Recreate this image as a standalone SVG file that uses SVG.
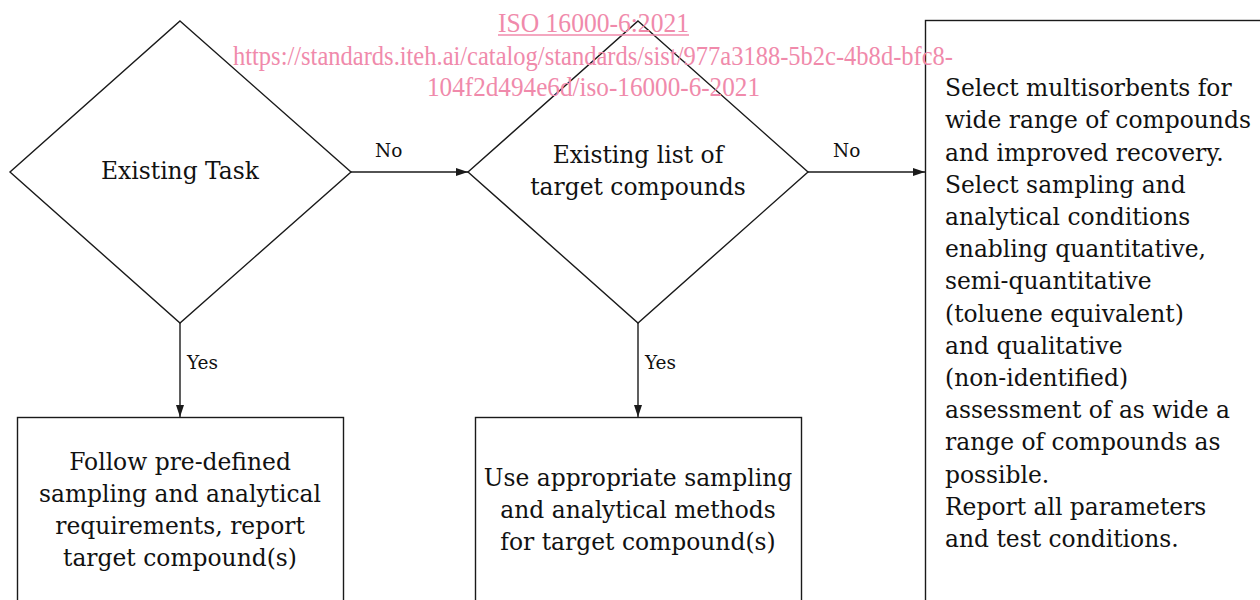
<svg xmlns="http://www.w3.org/2000/svg" width="1260" height="600" viewBox="0 0 1260 600">
<style>
.shape{fill:#fff;stroke:#1a1a1a;stroke-width:1.4}
.t{font-family:"DejaVu Serif","Liberation Serif",serif;font-size:23.4px;fill:#111}
.c{text-anchor:middle}
.lbl{font-family:"DejaVu Serif","Liberation Serif",serif;font-size:18.5px;fill:#111}
.conn{stroke:#1a1a1a;stroke-width:1.4;fill:none;marker-end:url(#ah)}
.wm{font-family:"Liberation Serif","Times New Roman",serif;font-size:28px;fill:#f08aab;text-anchor:middle}
</style>
<defs>
<marker id="ah" viewBox="0 0 12 8" refX="12" refY="4" markerWidth="12" markerHeight="8" markerUnits="userSpaceOnUse" orient="auto">
<path d="M0,0 L12,4 L0,8 Z" fill="#1a1a1a"/>
</marker>
</defs>
<rect width="1260" height="600" fill="#fff"/>
<g id="connectors">
<line class="conn" x1="351" y1="172" x2="468" y2="172"/>
<line class="conn" x1="808" y1="172" x2="925" y2="172"/>
<line class="conn" x1="180" y1="323" x2="180" y2="417"/>
<line class="conn" x1="638" y1="323" x2="638" y2="417"/>
<text class="lbl" x="375" y="157">No</text>
<text class="lbl" x="833" y="157">No</text>
<text class="lbl" x="187" y="369">Yes</text>
<text class="lbl" x="645" y="369">Yes</text>
</g>
<g id="node-existing-task">
<polygon class="shape" points="180,21 351,172 180,323 10,172"/>
<text class="t c" x="180" y="179">Existing Task</text>
</g>
<g id="node-existing-list">
<polygon class="shape" points="638,21 808,172 638,323 468,172"/>
<text class="t c" x="638" y="163">Existing list of</text>
<text class="t c" x="638" y="195">target compounds</text>
</g>
<g id="node-follow">
<rect class="shape" x="17.5" y="417.5" width="326" height="200"/>
<text class="t c" x="180" y="470">Follow pre-defined</text>
<text class="t c" x="180" y="502">sampling and analytical</text>
<text class="t c" x="180" y="534">requirements, report</text>
<text class="t c" x="180" y="566">target compound(s)</text>
</g>
<g id="node-use">
<rect class="shape" x="475.5" y="417.5" width="326" height="200"/>
<text class="t c" x="638" y="486">Use appropriate sampling</text>
<text class="t c" x="638" y="518">and analytical methods</text>
<text class="t c" x="638" y="550">for target compound(s)</text>
</g>
<g id="node-select">
<rect class="shape" x="925.5" y="20.5" width="360" height="600"/>
<text class="t" x="945" y="96">Select multisorbents for</text>
<text class="t" x="945" y="128">wide range of compounds</text>
<text class="t" x="945" y="161">and improved recovery.</text>
<text class="t" x="945" y="193">Select sampling and</text>
<text class="t" x="945" y="225">analytical conditions</text>
<text class="t" x="945" y="257">enabling quantitative,</text>
<text class="t" x="945" y="289">semi-quantitative</text>
<text class="t" x="945" y="322">(toluene equivalent)</text>
<text class="t" x="945" y="354">and qualitative</text>
<text class="t" x="945" y="386">(non-identified)</text>
<text class="t" x="945" y="418">assessment of as wide a</text>
<text class="t" x="945" y="450">range of compounds as</text>
<text class="t" x="945" y="483">possible.</text>
<text class="t" x="945" y="515">Report all parameters</text>
<text class="t" x="945" y="547">and test conditions.</text>
</g>
<g id="watermark">
<text class="wm" x="593.5" y="32" textLength="191" lengthAdjust="spacingAndGlyphs">ISO 16000-6:2021</text>
<line x1="498" y1="35" x2="689" y2="35" stroke="#f08aab" stroke-width="1.3"/>
<text class="wm" x="593" y="65" textLength="720" lengthAdjust="spacingAndGlyphs">https://standards.iteh.ai/catalog/standards/sist/977a3188-5b2c-4b8d-bfc8-</text>
<text class="wm" x="593.5" y="96" textLength="333" lengthAdjust="spacingAndGlyphs">104f2d494e6d/iso-16000-6-2021</text>
</g>
</svg>
